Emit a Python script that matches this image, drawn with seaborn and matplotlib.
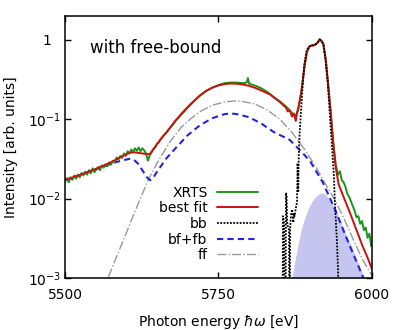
import matplotlib
matplotlib.use("Agg")
import matplotlib.pyplot as plt
import seaborn as sns
from matplotlib.ticker import FixedLocator, FixedFormatter, NullLocator

# --- data ---
# measured XRTS spectrum (noisy)
xrts_e = [5500, 5503, 5506, 5509, 5512, 5515, 5518, 5521, 5524, 5527, 5530, 5533, 5536, 5539,
          5542, 5545, 5548, 5551, 5554, 5557, 5560, 5563, 5566, 5569, 5572, 5575, 5578, 5581,
          5584, 5587, 5590, 5593, 5596, 5599, 5602, 5605, 5608, 5611, 5614, 5617, 5620, 5623,
          5626, 5629, 5632, 5635, 5638, 5641, 5644, 5647, 5650, 5653, 5656, 5659, 5662, 5665,
          5668, 5671, 5674, 5677, 5680, 5690, 5700, 5710, 5720, 5730, 5740, 5750, 5760, 5770,
          5780, 5790, 5796, 5798, 5800, 5810, 5820, 5830, 5840, 5850, 5860, 5866, 5872, 5876,
          5880, 5885, 5890, 5894, 5898, 5903, 5908, 5912, 5915, 5918, 5921, 5925, 5929, 5933,
          5937, 5941, 5945, 5948, 5951, 5954, 5957, 5960, 5963, 5966, 5969, 5972, 5975, 5978,
          5981, 5984, 5987, 5990, 5993, 5996, 5999, 6000]
xrts_i = [0.0165, 0.0180, 0.0160, 0.0185, 0.0172, 0.0195, 0.0178, 0.0200, 0.0185, 0.0210,
          0.0195, 0.0218, 0.0200, 0.0228, 0.0208, 0.0240, 0.0215, 0.0232, 0.0250, 0.0228,
          0.0262, 0.0245, 0.0270, 0.0255, 0.0285, 0.0268, 0.0300, 0.0285, 0.0330, 0.0310,
          0.0345, 0.0325, 0.0370, 0.0345, 0.0395, 0.0370, 0.0415, 0.0385, 0.0430, 0.0400,
          0.0440, 0.0395, 0.0430, 0.0405, 0.0370, 0.0300, 0.0350, 0.0380, 0.0420, 0.0440,
          0.0490, 0.0510, 0.0560, 0.0600, 0.0640, 0.0670, 0.0720, 0.0780, 0.0820, 0.0880,
          0.0950, 0.1150, 0.1400, 0.1680, 0.1980, 0.2270, 0.2500, 0.2700, 0.2850, 0.2900,
          0.2900, 0.2850, 0.2900, 0.3300, 0.2800, 0.2650, 0.2450, 0.2200, 0.1900, 0.1680,
          0.1450, 0.1300, 0.1150, 0.1100, 0.1300, 0.2200, 0.4500, 0.7000, 0.8200, 0.8600,
          0.8700, 0.9300, 1.0200, 0.9700, 0.8800, 0.5500, 0.2600, 0.1200, 0.0520, 0.0270,
          0.0200, 0.0220, 0.0170, 0.0160, 0.0140, 0.0115, 0.0105, 0.0092, 0.0080, 0.0070,
          0.0058, 0.0060, 0.0048, 0.0052, 0.0040, 0.0043, 0.0032, 0.0036, 0.0025, 0.0028]

# best fit
fit_e = [5500, 5510, 5520, 5530, 5540, 5550, 5560, 5570, 5580, 5590, 5600, 5606, 5612, 5620,
         5630, 5638, 5645, 5655, 5665, 5680, 5690, 5700, 5710, 5720, 5730, 5740, 5750, 5760,
         5770, 5780, 5790, 5800, 5810, 5820, 5834, 5850, 5860, 5863, 5866, 5870, 5873, 5876,
         5878, 5881, 5885, 5890, 5894, 5898, 5903, 5908, 5912, 5915, 5918, 5921, 5925, 5929,
         5933, 5937, 5941, 5946, 5955, 5965, 5975, 5985, 5993, 6000]
fit_i = [0.0172, 0.0182, 0.0193, 0.0206, 0.0220, 0.0236, 0.0255, 0.0276, 0.0300, 0.0330,
         0.0362, 0.0378, 0.0382, 0.0376, 0.0366, 0.0362, 0.0430, 0.0550, 0.0680, 0.0960,
         0.1180, 0.1430, 0.1700, 0.2000, 0.2280, 0.2500, 0.2660, 0.2770, 0.2820, 0.2800,
         0.2740, 0.2630, 0.2480, 0.2300, 0.2050, 0.1650, 0.1400, 0.1250, 0.1300, 0.1080,
         0.1180, 0.0950, 0.1200, 0.1500, 0.2200, 0.4500, 0.7000, 0.8200, 0.8600, 0.8700,
         0.9300, 1.0200, 0.9700, 0.8800, 0.5500, 0.2600, 0.1200, 0.0500, 0.0250, 0.0150,
         0.0100, 0.0064, 0.0040, 0.0025, 0.0018, 0.0013]

# bound-bound
bb_e = [5840, 5854.5, 5855, 5856, 5857, 5857.5, 5859.5, 5860, 5861, 5862, 5863, 5865, 5865.5,
        5866, 5867, 5868, 5870, 5872, 5873, 5874, 5876, 5878, 5879, 5880, 5881, 5882, 5884,
        5887, 5890, 5894, 5899, 5905, 5910, 5915, 5918, 5921, 5924, 5928, 5932, 5935, 5938,
        5940, 5943, 5945, 5947, 5960]
bb_i = [1e-5, 1e-4, 0.0060, 0.0055, 0.0050, 0.0004, 0.0005, 0.0118, 0.0110, 0.0050, 0.0045,
        0.0040, 0.0004, 0.0005, 0.0045, 0.0060, 0.0073, 0.0050, 0.0065, 0.0060, 0.0075, 0.0090,
        0.0280, 0.0120, 0.0400, 0.0600, 0.1100, 0.2500, 0.5000, 0.7500, 0.8400, 0.8500, 0.9000,
        1.0000, 0.9500, 0.9000, 0.6000, 0.3000, 0.1000, 0.0450, 0.0200, 0.0080, 0.0030, 0.0012,
        0.0001, 1e-5]

# bound-free + free-bound
bf_e = [5500, 5520, 5540, 5560, 5580, 5595, 5605, 5612, 5620, 5628, 5634, 5639, 5645, 5652,
        5665, 5680, 5700, 5720, 5740, 5760, 5770, 5780, 5800, 5820, 5840, 5866, 5888, 5900,
        5920, 5940, 5960, 5975, 5986, 5995]
bf_i = [0.0170, 0.0192, 0.0218, 0.0248, 0.0283, 0.0305, 0.0316, 0.0310, 0.0270, 0.0215,
        0.0183, 0.0170, 0.0190, 0.0230, 0.0320, 0.0430, 0.0630, 0.0840, 0.1030, 0.1160,
        0.1180, 0.1160, 0.1060, 0.0880, 0.0690, 0.0550, 0.0370, 0.0290, 0.0160, 0.0073,
        0.0030, 0.0016, 0.0010, 0.0007]

# free-free
ff_e = [5560, 5570, 5580, 5590, 5600, 5610, 5620, 5636, 5650, 5671, 5690, 5704, 5720, 5740,
        5760, 5775, 5790, 5810, 5830, 5850, 5870, 5891, 5910, 5925, 5940, 5955, 5970, 5985, 5999]
ff_i = [0.0007, 0.0010, 0.00155, 0.0024, 0.0037, 0.0058, 0.0089, 0.0175, 0.0280, 0.0520,
        0.0800, 0.1000, 0.1250, 0.1500, 0.1650, 0.1700, 0.1670, 0.1550, 0.1300, 0.1000,
        0.0680, 0.0410, 0.0240, 0.0150, 0.0095, 0.0055, 0.0030, 0.0017, 0.0011]

# shaded component
fill_e = [5865, 5870, 5875, 5880, 5885, 5890, 5896, 5902, 5907, 5912, 5918, 5924, 5930, 5936,
          5943, 5950, 5958, 5967, 5974, 5980, 5986, 5992]
fill_i = [0.0003, 0.0010, 0.0017, 0.0027, 0.0041, 0.0055, 0.0073, 0.0091, 0.0103, 0.0112,
          0.0118, 0.0114, 0.0100, 0.0085, 0.0066, 0.0049, 0.0035, 0.0025, 0.0018, 0.0014,
          0.0011, 0.0008]

xticks = [5500, 5750, 6000]
yticks = [1e-3, 1e-2, 1e-1, 1]
ytick_labels = ["$10^{-3}$", "$10^{-2}$", "$10^{-1}$", "1  "]

sns.set_style("ticks")
plt.rcParams["font.family"] = ["DejaVu Sans"]
plt.rcParams["font.size"] = 10
for k in ["text.color", "axes.labelcolor", "xtick.color", "ytick.color", "axes.edgecolor"]:
    plt.rcParams[k] = "black"

fig = plt.figure(figsize=(3.99, 3.30), dpi=100)
ax = fig.add_axes([0.163, 0.158, 0.769, 0.7935])

ax.fill_between(fill_e, 1e-5, fill_i, color="#c5c5f0", lw=0)
sns.lineplot(x=ff_e, y=ff_i, ax=ax, color="#999999", lw=1.0, linestyle="-.",
             label="ff", estimator=None, sort=False)
sns.lineplot(x=bf_e, y=bf_i, ax=ax, color="#2424e0", lw=1.5, dashes=False,
             label="bf+fb", estimator=None, sort=False)
sns.lineplot(x=xrts_e, y=xrts_i, ax=ax, color="#1a961a", lw=1.4,
             label="XRTS", estimator=None, sort=False)
sns.lineplot(x=fit_e, y=fit_i, ax=ax, color="#cc1111", lw=1.4,
             label="best fit", estimator=None, sort=False)
sns.lineplot(x=bb_e, y=bb_i, ax=ax, color="black", lw=1.3,
             label="bb", estimator=None, sort=False)

# line styles (seaborn's own dashes get in the way)
lines = ax.get_lines()
lines[1].set_dashes((3, 2))
lines[4].set_dashes((1, 0.8))

ax.set_yscale("log")
ax.set_xlim(5500, 6000)
ax.set_ylim(1e-3, 2)
ax.xaxis.set_major_locator(FixedLocator(xticks))
ax.yaxis.set_major_locator(FixedLocator(yticks))
ax.yaxis.set_major_formatter(FixedFormatter(ytick_labels))
ax.yaxis.set_minor_locator(NullLocator())
ax.xaxis.set_minor_locator(NullLocator())
ax.tick_params(which="both", direction="in", top=True, right=True, length=4, width=1,
               labelsize=10)
ax.tick_params(axis="x", pad=7)
ax.tick_params(axis="y", pad=3)
for s in ax.spines.values():
    s.set_linewidth(1.1)
    s.set_color("black")

ax.set_xlabel("Photon energy $\\hbar\\omega$ [eV]", fontsize=10, labelpad=8)
ax.set_ylabel("Intensity [arb. units]", fontsize=10, labelpad=7)
ax.text(0.081, 0.878, "with free-bound", transform=ax.transAxes, fontsize=12, va="center")

handles, labels = ax.get_legend_handles_labels()
order = ["XRTS", "best fit", "bb", "bf+fb", "ff"]
hmap = dict(zip(labels, handles))
ax.legend([hmap[k] for k in order], order, loc="lower right", bbox_to_anchor=(0.668, 0.012),
          frameon=False, markerfirst=False, handlelength=2.9, fontsize=10,
          labelspacing=0.12, borderpad=0.4, handletextpad=0.7)

fig.savefig("out.png", dpi=100)
